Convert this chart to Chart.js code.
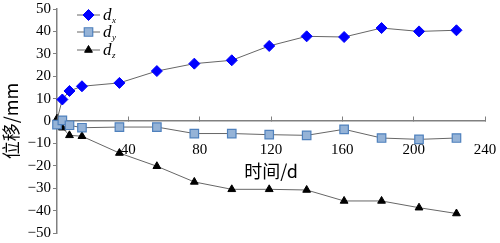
<!DOCTYPE html>
<html>
<head>
<meta charset="utf-8">
<script src="https://cdn.jsdelivr.net/npm/chart.js@4.4.1/dist/chart.umd.min.js"></script>
<style>
  html, body { margin: 0; padding: 0; background: #fff; }
  #wrap { width: 500px; height: 243px; }
</style>
</head>
<body>
<div id="wrap"><canvas id="c" width="500" height="243"></canvas></div>
<script>
// days since start
const days = [0, 3, 7, 14, 35, 56, 77, 98, 119, 140, 161, 182, 203, 224];
const dx = [0.5, 9.6, 13.4, 15.5, 17, 22.3, 25.6, 27.1, 33.5, 37.8, 37.5, 41.5, 40, 40.5];
const dy = [-1.6, 0.3, -1.9, -3, -2.7, -2.7, -5.6, -5.6, -6.1, -6.4, -3.7, -7.6, -8.2, -7.6];
const dz = [1, -3, -6.4, -6.8, -14.3, -20.2, -27.2, -30.5, -30.5, -30.8, -35.7, -35.7, -38.7, -41.3];
const seriesNames = ["x", "y", "z"];
const xTicks = [40, 80, 120, 160, 200, 240];

const serif = "Liberation Serif";
const cjk = "Noto Sans CJK SC";
const axisColor = "#808080";

Chart.defaults.font.family = serif;

const pts = (arr) => arr.map((v, i) => ({ x: days[i], y: v }));

const styles = [
  { pointStyle: "rectRot", radius: 5.5, bg: "#0000ff", border: "#0000ff", bw: 1 },
  { pointStyle: "rect", radius: 6, bg: "#95b3d7", border: "#4f81bd", bw: 1.2 },
  { pointStyle: "triangle", radius: 4.5, bg: "#000000", border: "#000000", bw: 1 },
];

const datasets = [dx, dy, dz].map((arr, i) => ({
  label: "d" + seriesNames[i],
  data: pts(arr),
  borderColor: "#666666",
  borderWidth: 1,
  pointStyle: styles[i].pointStyle,
  // the d_x marker at day 0 is not shown in the original
  pointRadius: i === 0 ? (ctx) => (ctx.dataIndex === 0 ? 0 : styles[0].radius) : styles[i].radius,
  pointBackgroundColor: styles[i].bg,
  pointBorderColor: styles[i].border,
  pointBorderWidth: styles[i].bw,
  tension: 0,
  clip: false,
}));

// legend with subscripts, drawn on the canvas
const subLegend = {
  id: "subLegend",
  afterDraw(chart) {
    const ctx = chart.ctx;
    const rows = [15, 32, 50];
    ctx.save();
    rows.forEach((y, i) => {
      const s = styles[i];
      ctx.strokeStyle = "#666666";
      ctx.lineWidth = 1;
      ctx.beginPath();
      ctx.moveTo(77, y);
      ctx.lineTo(100, y);
      ctx.stroke();
      ctx.fillStyle = s.bg;
      ctx.strokeStyle = s.border;
      ctx.lineWidth = s.bw;
      Chart.helpers.drawPoint(ctx, { pointStyle: s.pointStyle, radius: s.radius, borderWidth: s.bw, rotation: 0 }, 88.5, y);
      ctx.fillStyle = "#000";
      ctx.textBaseline = "alphabetic";
      ctx.textAlign = "left";
      ctx.font = "italic 17px " + serif;
      ctx.fillText("d", 103, y + 5);
      ctx.font = "italic 9px " + serif;
      ctx.fillText(seriesNames[i], 112, y + 8);
    });
    ctx.restore();
  },
};

function draw() {
  new Chart(document.getElementById("c"), {
    type: "line",
    data: { datasets },
    plugins: [subLegend],
    options: {
      responsive: false,
      animation: false,
      layout: { padding: { top: 9, right: 15, bottom: 10, left: 0 } },
      plugins: { legend: { display: false }, tooltip: { enabled: false } },
      scales: {
        x: {
          type: "linear",
          min: 0,
          max: 240,
          position: { y: 0 },
          afterBuildTicks(scale) {
            scale.ticks = [0].concat(xTicks).map((v) => ({ value: v }));
          },
          afterFit(scale) {
            scale.height = 61;
            scale.paddingLeft = 0;
            scale.paddingRight = 0;
          },
          ticks: {
            padding: 25,
            maxRotation: 0,
            autoSkip: false,
            color: "#000",
            font: { family: serif, size: 15 },
            callback: (v) => (v === 0 ? "" : String(v)),
          },
          grid: { drawOnChartArea: false, drawTicks: true, tickLength: -5, color: axisColor },
          border: { color: axisColor, width: 1.5 },
          title: {
            display: true,
            text: "时间/d",
            color: "#000",
            font: { family: cjk, size: 18 },
            padding: { top: 0, bottom: 0 },
          },
        },
        y: {
          min: -50,
          max: 50,
          afterFit(scale) {
            scale.width = 57;
            scale.paddingTop = 0;
            scale.paddingBottom = 0;
          },
          ticks: {
            stepSize: 10,
            padding: 2,
            autoSkip: false,
            color: "#000",
            font: { family: serif, size: 15 },
            callback: (v) => (v < 0 ? "\u2212" + Math.abs(v) : String(v)),
          },
          grid: { drawOnChartArea: false, drawTicks: true, tickLength: 4, color: axisColor },
          border: { color: axisColor, width: 1.5 },
          title: {
            display: true,
            text: "位移/mm",
            color: "#000",
            font: { family: cjk, size: 18 },
            padding: { top: 0, bottom: 0 },
          },
        },
      },
    },
  });
}

Promise.all([
  document.fonts.load("16px 'Liberation Serif'"),
  document.fonts.load("italic 16px 'Liberation Serif'"),
  document.fonts.load("18px 'Noto Sans CJK SC'", "位移时间"),
]).then(draw, draw);
</script>
</body>
</html>
